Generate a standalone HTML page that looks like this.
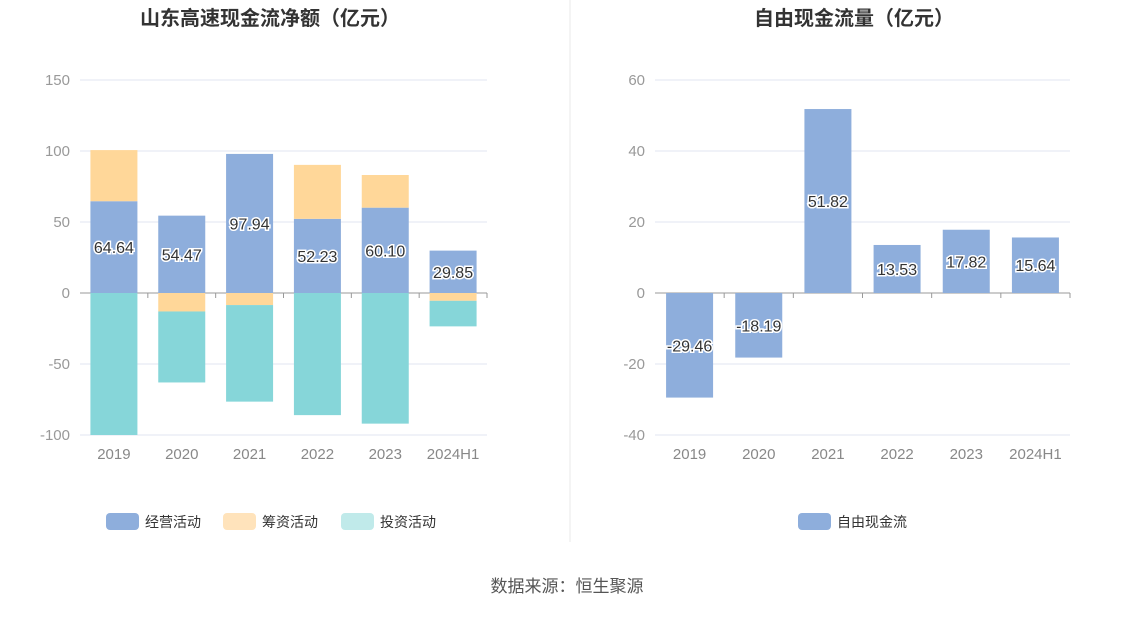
<!DOCTYPE html>
<html><head><meta charset="utf-8"><style>
body{margin:0;background:#fff;font-family:"Liberation Sans","Noto Sans CJK SC",sans-serif}
svg text{font-family:"Liberation Sans","Noto Sans CJK SC",sans-serif}
</style></head><body>
<svg id="c" width="1134" height="612" xmlns="http://www.w3.org/2000/svg">
<text x="270" y="25" text-anchor="middle" font-size="20" font-weight="bold" fill="#333">山东高速现金流净额（亿元）</text>
<text x="854" y="25" text-anchor="middle" font-size="20" font-weight="bold" fill="#333">自由现金流量（亿元）</text>
<line x1="570" y1="0" x2="570" y2="542" stroke="#e8e8e8"/>
<text x="567" y="592" text-anchor="middle" font-size="17" fill="#555">数据来源：恒生聚源</text>
<g id="L"></g><g id="R"></g>
<g>
<rect x="106" y="513" width="33" height="17" rx="4" fill="#8eaedc"/>
<text x="145" y="527" font-size="14" fill="#333">经营活动</text>
<rect x="223" y="513" width="33" height="17" rx="4" fill="#ffe3bb"/>
<text x="262" y="527" font-size="14" fill="#333">筹资活动</text>
<rect x="341" y="513" width="33" height="17" rx="4" fill="#c0eaea"/>
<text x="380" y="527" font-size="14" fill="#333">投资活动</text>
</g>
<g>
<rect x="798" y="513" width="33" height="17" rx="4" fill="#8eaedc"/>
<text x="837" y="527" font-size="14" fill="#333">自由现金流</text>
</g>
</svg>
<script>
const categories=["2019","2020","2021","2022","2023","2024H1"];
const operating=[64.64,54.47,97.94,52.23,60.10,29.85];
const financing=[36,-13,-8.5,38,23,-5.5];
const investing=[-100,-50,-68,-86,-92,-18];
const leftTicks=[150,100,50,0,-50,-100];
const fcf=[-29.46,-18.19,51.82,13.53,17.82,15.64];
const rightTicks=[60,40,20,0,-20,-40];
const NS="http://www.w3.org/2000/svg";
function mk(p,t,a){const e=document.createElementNS(NS,t);for(const k in a)e.setAttribute(k,a[k]);p.appendChild(e);return e;}
function axis(g,x0,x1,ymaxV,yminV){const yTop=80,yBot=435;
 const y=v=>yTop+(ymaxV-v)/(ymaxV-yminV)*(yBot-yTop);
 const bw=(x1-x0)/categories.length;
 const x=i=>x0+bw*i+bw/2;
 return {y,x,bw};}
function drawGrid(g,ax,ticks,x0,x1){
 ticks.forEach(t=>{const l=mk(g,"line",{x1:x0,x2:x1,y1:ax.y(t),y2:ax.y(t),stroke:t===0?"#999":"#e0e6f1"});
 
 
 const tx=mk(g,"text",{x:x0-10,y:ax.y(t)+5,"text-anchor":"end","font-size":15,fill:"#999"});tx.textContent=t;
 
 });
 categories.forEach((c,i)=>{const tx=mk(g,"text",{x:ax.x(i),y:459,"text-anchor":"middle","font-size":15,fill:"#888"});tx.textContent=c;
 
 
 const tk=mk(g,"line",{x1:ax.x(i)+ax.bw/2,x2:ax.x(i)+ax.bw/2,y1:ax.y(0),y2:ax.y(0)+5,stroke:"#999"});
 
 });}
function bar(g,ax,i,a,b,col,name){const w=47;const r=mk(g,"rect",{x:ax.x(i)-w/2,y:Math.min(ax.y(a),ax.y(b)),width:w,height:Math.abs(ax.y(a)-ax.y(b)),fill:col});
 
 }
function label(g,ax,i,v,yy){const t=mk(g,"text",{x:ax.x(i),y:yy,"text-anchor":"middle","font-size":16,fill:"#333",stroke:"#fff","stroke-width":3,"paint-order":"stroke"});t.textContent=v.toFixed(2);
 
 }
const L=document.getElementById("L"),R=document.getElementById("R");
const la=axis(L,80,487,150,-100);
drawGrid(L,la,leftTicks,80,487);
categories.forEach((c,i)=>{
 const op=operating[i],fi=financing[i],iv=investing[i];
 let pos=0,neg=0;
 bar(L,la,i,0,op,"#8eaedc","bar-operating-"+c);pos=op;
 if(fi>=0){bar(L,la,i,pos,pos+fi,"#ffd799","bar-financing-"+c);pos+=fi;}else{bar(L,la,i,neg,neg+fi,"#ffd799","bar-financing-"+c);neg+=fi;}
 if(iv>=0){bar(L,la,i,pos,pos+iv,"#86d6d9","bar-investing-"+c);}else{bar(L,la,i,neg,neg+iv,"#86d6d9","bar-investing-"+c);}
});
categories.forEach((c,i)=>label(L,la,i,operating[i],la.y(operating[i]/2)+6));
const ra=axis(R,655,1070,60,-40);
drawGrid(R,ra,rightTicks,655,1070);
categories.forEach((c,i)=>{bar(R,ra,i,0,fcf[i],"#8eaedc","bar-fcf-"+c);label(R,ra,i,fcf[i],ra.y(fcf[i]/2)+6);});
</script>
</body></html>
